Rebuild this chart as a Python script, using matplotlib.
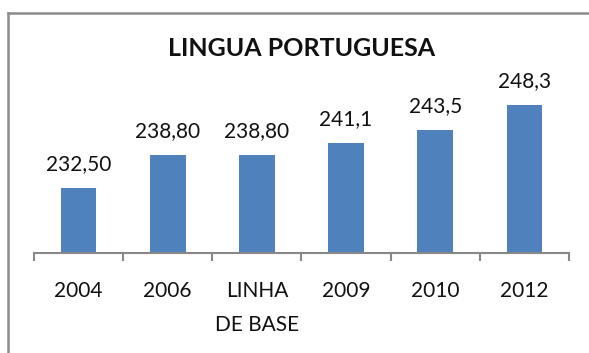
import matplotlib
matplotlib.use('Agg')
import numpy as np
from matplotlib import pyplot as plt
from matplotlib.lines import Line2D

categories = ['2004', '2006', 'LINHA\nDE BASE', '2009', '2010', '2012']
scores = [232.5, 238.8, 238.8, 241.1, 243.5, 248.3]
score_labels = ['232,50', '238,80', '238,80', '241,1', '243,5', '248,3']
title = 'LINGUA PORTUGUESA'

plt.rcParams['font.family'] = ['Lato', 'DejaVu Sans']

W, H = 589, 353
fig = plt.figure(figsize=(W/100, H/100), dpi=100)
fig.patch.set_facecolor('white')

# plot area in pixel coords
x0, x1, ytop, ybot = 34, 569, 96, 253
ax = fig.add_axes([x0/W, 1-ybot/H, (x1-x0)/W, (ybot-ytop)/H])

x = np.arange(len(categories))
bars = ax.bar(x, scores, width=0.4, color='#4F81BD', bottom=0)
ax.set_xlim(-0.5, len(categories)-0.5)
ax.set_ylim(220, 250)

ax.bar_label(bars, labels=score_labels, padding=10, fontsize=15, color='#111111')

for s in ['top', 'right', 'left']:
    ax.spines[s].set_visible(False)
ax.spines['bottom'].set_color('#888888')
ax.spines['bottom'].set_linewidth(1.5)
ax.set_yticks([])

ax.set_xticks(x)
ax.set_xticklabels(categories, fontsize=15, color='#111111', linespacing=1.9)
ax.tick_params(axis='x', which='major', length=0, pad=20)
ax.set_xticks(np.arange(len(categories)+1)-0.5, minor=True)
ax.tick_params(axis='x', which='minor', length=6, width=1.5, color='#888888', direction='out')

fig.text((x0+x1)/2/W, 1-49/H, title, ha='center', va='center',
         fontsize=18, fontweight='bold', color='#111111')

# chart frame (runs off the right and bottom edges)
fx, fy = 8/W, 1-13/H
fig.add_artist(Line2D([fx, fx], [fy, -0.05], color='#8c8c8c', lw=1.8))
fig.add_artist(Line2D([fx, 1.05], [fy, fy], color='#8c8c8c', lw=1.8))

fig.savefig('out.png', dpi=100)
